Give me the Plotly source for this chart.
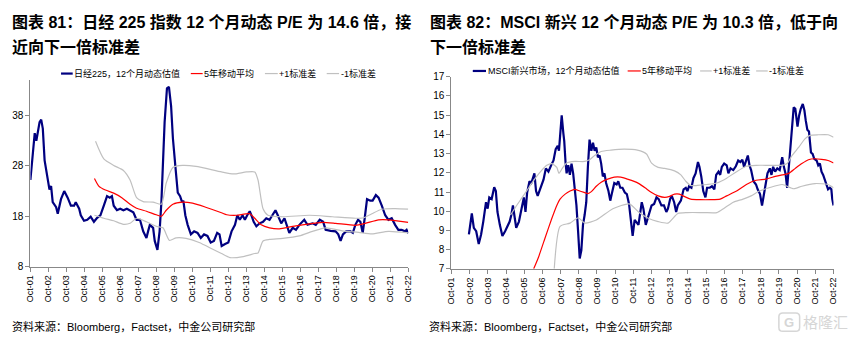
import plotly.graph_objects as go

# ---------------- Nikkei 225: 12m forward P/E (x = decimal year) ----------------
nikkei_x = [2001.75, 2001.90, 2001.99, 2002.08, 2002.17, 2002.26, 2002.35, 2002.44, 2002.54, 2002.72,
            2002.81, 2002.90, 2002.99, 2003.18, 2003.27, 2003.45, 2003.63, 2003.82, 2004.00, 2004.18,
            2004.27, 2004.46, 2004.55, 2004.73, 2004.91, 2005.10, 2005.28, 2005.46, 2005.64, 2005.83,
            2006.01, 2006.16, 2006.28, 2006.38, 2006.56, 2006.74, 2006.92, 2007.11, 2007.29, 2007.47,
            2007.65, 2007.84, 2008.02, 2008.20, 2008.29, 2008.39, 2008.57, 2008.66, 2008.81, 2008.93,
            2009.03, 2009.12, 2009.21, 2009.34, 2009.45, 2009.57, 2009.67, 2009.81, 2009.94, 2010.07,
            2010.18, 2010.25, 2010.36, 2010.49, 2010.67, 2010.85, 2011.04, 2011.22, 2011.40, 2011.59,
            2011.77, 2011.95, 2012.13, 2012.26, 2012.38, 2012.57, 2012.75, 2012.93, 2013.12, 2013.25,
            2013.39, 2013.54, 2013.67, 2013.80, 2013.94, 2014.03, 2014.16, 2014.31, 2014.49, 2014.68,
            2014.86, 2015.04, 2015.23, 2015.37, 2015.50, 2015.69, 2015.87, 2016.00, 2016.14, 2016.33,
            2016.51, 2016.70, 2016.97, 2017.15, 2017.43, 2017.61, 2017.83, 2018.02, 2018.16, 2018.44,
            2018.71, 2018.86, 2018.99, 2019.12, 2019.30, 2019.54, 2019.67, 2019.81, 2019.96, 2020.09,
            2020.22, 2020.33, 2020.46, 2020.64, 2020.77, 2020.95, 2021.10, 2021.28, 2021.47, 2021.65,
            2021.83, 2022.02, 2022.20, 2022.38, 2022.57, 2022.66, 2022.75]
nikkei_pe = [25.2, 31, 34.5, 33, 34.5, 36.7, 37.2, 35.4, 29.1, 25.2,
             23.3, 24, 20.8, 19.8, 18.5, 21.4, 23, 21.7, 20.1, 20.1,
             20.8, 19.5, 18.2, 17.1, 17.3, 17.9, 16.9, 17.7, 18.2, 20.1,
             22, 21.7, 22, 20.1, 19.2, 19.5, 19.2, 19.5, 19.2, 18.8,
             17.3, 17.3, 15, 13.7, 15, 16.3, 15.7, 13.1, 11.3, 15,
             20.8, 30.3, 36.7, 43.4, 43.7, 39.9, 33.5, 27.8, 22.7, 22,
             20.8, 21.1, 18.2, 16.3, 14.4, 15, 14.7, 13.7, 14.4, 14.1,
             12.8, 13.1, 14.7, 14.4, 12.1, 12.5, 12.8, 15, 16.3, 18.2,
             17.3, 18.2, 17.3, 18.2, 19, 18.2, 16.9, 16, 16.6, 16.9,
             17.6, 17.3, 18.5, 19.2, 18.2, 16.6, 17.6, 16, 14.7, 15.7,
             15.3, 16.3, 17.3, 16.3, 16.6, 16.3, 17.3, 16.9, 15.3, 15.1,
             15, 14.4, 13.1, 14.4, 15, 15, 14.7, 16.3, 17.3, 16.9,
             14.7, 17.6, 21.4, 21.1, 21.1, 22.2, 21.7, 20.1, 18.2, 17.3,
             17.6, 16.3, 15.3, 15.3, 15, 15.3, 14.6]

nikkei_ma_x = [2005.31, 2005.55, 2005.92, 2006.38, 2006.83, 2007.29, 2007.65, 2008.20, 2008.75, 2009.03,
               2009.30, 2009.67, 2010.21, 2010.76, 2011.49, 2012.37, 2012.66, 2013.21, 2013.94, 2014.22,
               2014.58, 2015.04, 2015.59, 2016.33, 2017.06, 2017.98, 2018.71, 2019.81, 2020.36, 2021.10,
               2021.65, 2022.75]
nikkei_ma = [25.5, 24, 23.2, 22.6, 21.7, 20.4, 19.6, 19, 18.3, 18,
             19.2, 20.4, 20.8, 20.6, 19.8, 18.7, 18.3, 18.2, 18.5, 17.6,
             16.3, 15.7, 15.5, 16, 16.4, 16.8, 16.6, 16.2, 16.6, 17.3,
             17.3, 16.8]

nikkei_up_x = [2005.37, 2005.83, 2006.38, 2006.92, 2007.29, 2007.65, 2008.02, 2008.57, 2009.03, 2009.30,
               2009.67, 2010.21, 2010.95, 2012.37, 2013.03, 2013.76, 2014.22, 2014.40, 2014.68, 2014.95,
               2015.78, 2017.25, 2018.53, 2019.81, 2020.27, 2020.73, 2021.28, 2022.02, 2022.75]
nikkei_up = [32.9, 29.4, 28.1, 27.1, 25.2, 21.7, 20.9, 20.8, 20.4, 24.6,
             27.7, 28.1, 27.9, 26.8, 26.4, 26.8, 26.8, 25.2, 19.5, 18.2,
             17.9, 18.2, 17.9, 17.6, 17.7, 18.5, 19.4, 19.5, 19.4]

nikkei_dn_x = [2005.31, 2005.83, 2006.38, 2006.92, 2007.29, 2007.65, 2008.20, 2008.75, 2009.12, 2009.48,
               2009.85, 2010.40, 2011.13, 2011.86, 2012.37, 2012.84, 2013.58, 2014.22, 2014.40, 2014.68,
               2015.04, 2015.78, 2016.70, 2017.43, 2018.16, 2019.08, 2019.99, 2020.73, 2021.65, 2022.75]
nikkei_dn = [18.2, 17.6, 17.1, 16.4, 16.6, 17.6, 16.9, 16, 15.7, 13.2,
             13.7, 13.6, 12.8, 11.5, 10.6, 9.8, 10, 10.6, 10.7, 13.1,
             13.4, 13.6, 14.1, 15, 15.7, 15.1, 14.8, 14.5, 15, 14.7]

# ---------------- MSCI EM: 12m forward P/E ----------------
msci_x = [2002.71, 2002.87, 2002.98, 2003.11, 2003.25, 2003.38, 2003.50, 2003.65, 2003.74, 2003.83,
          2003.96, 2004.10, 2004.19, 2004.28, 2004.41, 2004.55, 2004.70, 2004.82, 2004.95, 2005.04,
          2005.13, 2005.22, 2005.31, 2005.46, 2005.64, 2005.73, 2005.82, 2005.91, 2006.04, 2006.14,
          2006.31, 2006.40, 2006.49, 2006.63, 2006.81, 2006.94, 2007.08, 2007.23, 2007.36, 2007.48,
          2007.59, 2007.66, 2007.75, 2007.81, 2007.90, 2007.95, 2008.02, 2008.08, 2008.17, 2008.26,
          2008.35, 2008.44, 2008.53, 2008.62, 2008.71, 2008.80, 2008.89, 2008.98, 2009.07, 2009.16,
          2009.25, 2009.34, 2009.44, 2009.53, 2009.62, 2009.71, 2009.80, 2009.89, 2009.98, 2010.07,
          2010.16, 2010.25, 2010.38, 2010.48, 2010.56, 2010.70, 2010.83, 2010.92, 2011.03, 2011.15,
          2011.28, 2011.39, 2011.51, 2011.60, 2011.71, 2011.82, 2011.93,
          2012.03, 2012.21, 2012.30, 2012.43, 2012.57, 2012.75, 2012.89, 2013.02, 2013.14, 2013.29,
          2013.43, 2013.56, 2013.65, 2013.77, 2013.86, 2013.99, 2014.10, 2014.19, 2014.36, 2014.51,
          2014.63, 2014.72, 2014.81, 2014.94, 2015.05, 2015.17, 2015.30, 2015.38, 2015.48, 2015.59,
          2015.71, 2015.80, 2015.95, 2016.07, 2016.20, 2016.30, 2016.43, 2016.52, 2016.61, 2016.74,
          2016.88, 2016.97, 2017.09, 2017.24, 2017.38, 2017.51, 2017.63, 2017.74, 2017.83, 2017.92,
          2018.04, 2018.13, 2018.22, 2018.35, 2018.49, 2018.58, 2018.71, 2018.82, 2018.89, 2019.00,
          2019.12, 2019.25, 2019.34, 2019.43, 2019.54, 2019.66, 2019.79, 2019.93, 2020.02, 2020.11,
          2020.20, 2020.29, 2020.38, 2020.47, 2020.56, 2020.65, 2020.77, 2020.86, 2020.95, 2021.06,
          2021.15, 2021.22, 2021.31, 2021.40, 2021.51, 2021.60, 2021.69, 2021.82, 2021.91, 2022.00,
          2022.09, 2022.18, 2022.27, 2022.36, 2022.45, 2022.55, 2022.63, 2022.68, 2022.75]
msci_pe = [8.79, 9.88, 9.13, 8.96, 8.29, 8.79, 9.46, 10.47, 10.13, 10.72,
           10.63, 11.25, 11.05, 9.96, 9.29, 8.71, 8.96, 9.21, 9.46, 9.80,
           10.30, 9.71, 9.13, 9.46, 10.22, 10.72, 9.96, 10.97, 11.56, 11.47,
           11.97, 11.05, 10.80, 11.14, 11.64, 12.23, 12.06, 12.39, 12.64, 13.23,
           13.40, 13.15, 14.40, 14.99, 14.07, 13.65, 12.56, 11.97, 12.39, 11.89,
           12.48, 11.97, 11.14, 10.30, 8.96, 7.54, 7.96, 9.29, 9.80, 10.47,
           12.31, 13.73, 13.15, 13.57, 13.15, 13.32, 12.81, 12.90, 12.48, 11.81,
           11.97, 11.47, 11.05, 10.55, 10.89, 11.47, 11.39, 11.56, 11.22, 11.22,
           10.97, 10.89, 10.38, 9.63, 8.71, 9.55, 9.38,
           9.29, 10.47, 10.13, 9.29, 9.80, 10.30, 10.38, 10.72, 10.63, 10.30,
           10.30, 9.96, 10.13, 10.63, 10.80, 10.47, 9.96, 10.30, 10.55, 11.14,
           11.22, 11.05, 11.30, 11.22, 11.72, 11.97, 12.56, 12.31, 11.81, 11.05,
           10.72, 11.22, 11.22, 11.30, 11.14, 11.89, 12.06, 11.89, 12.31, 12.48,
           12.39, 11.97, 12.23, 12.14, 12.34, 12.64, 12.56, 12.68, 12.31, 12.56,
           12.90, 12.39, 12.14, 11.56, 11.39, 11.14, 10.89, 10.30, 10.80, 11.30,
           11.97, 12.23, 11.89, 12.31, 12.06, 12.23, 12.14, 12.81, 12.31, 11.97,
           11.22, 12.31, 13.48, 14.66, 15.41, 15.33, 14.40, 14.99, 15.33, 15.58,
           15.24, 14.74, 14.24, 14.15, 13.06, 12.98, 12.73, 12.64, 12.39, 12.48,
           12.06, 11.89, 11.64, 11.39, 11.14, 11.22, 11.14, 10.63, 10.3]

msci_ma_x = [2006.27, 2006.54, 2006.90, 2007.27, 2007.54, 2007.72, 2008.00, 2008.27, 2008.53, 2008.80,
             2009.07, 2009.25, 2009.44, 2009.71, 2009.98, 2010.34, 2010.70, 2011.06, 2011.42, 2011.79,
             2012.03, 2012.39, 2012.75, 2013.11, 2013.47, 2013.74, 2014.01, 2014.28, 2014.54, 2014.90,
             2015.44, 2015.98, 2016.52, 2016.88, 2017.42, 2017.96, 2018.49, 2019.03, 2019.39, 2019.93,
             2020.29, 2020.65, 2021.01, 2021.37, 2021.73, 2022.09, 2022.45, 2022.75]
msci_ma = [7.0, 7.62, 8.62, 9.63, 10.30, 10.63, 10.89, 11.05, 11.14, 11.05,
           10.97, 10.92, 11.02, 11.30, 11.51, 11.67, 11.77, 11.77, 11.67, 11.55,
           11.45, 11.22, 10.97, 10.80, 10.72, 10.77, 10.89, 10.89, 10.77, 10.63,
           10.60, 10.60, 10.63, 10.80, 11.05, 11.39, 11.61, 11.67, 11.77, 11.89,
           11.97, 12.23, 12.48, 12.68, 12.73, 12.70, 12.64, 12.51]

msci_up_x = [2005.00, 2005.28, 2005.64, 2006.00, 2006.36, 2006.72, 2006.99, 2007.27, 2007.54, 2007.66,
             2007.84, 2008.08, 2008.53, 2009.07, 2009.34, 2009.62, 2009.98, 2010.52, 2011.24, 2011.97,
             2012.47, 2012.75, 2013.11, 2013.47, 2014.01, 2014.36, 2014.63, 2014.90, 2015.26, 2015.80,
             2016.34, 2016.88, 2017.42, 2017.96, 2018.49, 2019.21, 2019.93, 2020.20, 2020.47, 2020.83,
             2021.19, 2021.46, 2021.91, 2022.45, 2022.75]
msci_up = [9.80, 10.22, 10.72, 11.22, 11.72, 12.14, 12.39, 12.48, 12.28, 11.97,
           12.23, 12.51, 12.59, 12.59, 12.68, 12.90, 13.11, 13.18, 13.23, 13.18,
           12.98, 12.50, 12.28, 12.23, 12.10, 11.89, 11.56, 11.34, 11.34, 11.39,
           11.47, 11.72, 12.06, 12.34, 12.39, 12.39, 12.39, 12.48, 12.90, 13.32,
           13.78, 13.95, 13.98, 13.98, 13.85]

msci_dn_x = [2007.40, 2007.72, 2008.27, 2008.72, 2009.08, 2009.71, 2010.62, 2011.53, 2012.03, 2012.57,
             2013.11, 2013.65, 2014.19, 2014.72, 2015.62, 2016.34, 2016.70, 2017.24, 2017.78, 2018.22,
             2018.67, 2019.21, 2019.93, 2020.56, 2021.01, 2021.73, 2022.45, 2022.75]
msci_dn = [7.0, 9.21, 9.38, 9.66, 9.38, 9.54, 10.13, 10.38, 9.96, 9.63,
           9.46, 9.38, 9.88, 9.93, 9.93, 9.93, 10.13, 10.47, 10.63, 10.80,
           11.05, 11.22, 11.39, 11.17, 11.30, 11.44, 11.39, 11.22]

# ---------------- axis ticks ----------------
tick_labels = ["Oct-01", "Oct-02", "Oct-03", "Oct-04", "Oct-05", "Oct-06", "Oct-07", "Oct-08",
               "Oct-09", "Oct-10", "Oct-11", "Oct-12", "Oct-13", "Oct-14", "Oct-15", "Oct-16",
               "Oct-17", "Oct-18", "Oct-19", "Oct-20", "Oct-21", "Oct-22"]
tick_pos = [2001.75 + i for i in range(len(tick_labels))]
nikkei_yticks = [8, 18, 28, 38]
msci_yticks = [7, 8, 9, 10, 11, 12, 13, 14, 15, 16, 17]

# ---------------- styling ----------------
W, H = 858, 345
NAVY, RED, GREY, AXIS = "#000080", "#FF0000", "#C0C0C0", "#888888"
FONT = "Liberation Sans, Arial, Noto Sans CJK SC, sans-serif"


def px(x):
    return x / W


def py(y):
    return 1 - y / H


fig = go.Figure()


def add_series(xs, ys, color, width, xa, ya, smooth):
    fig.add_trace(go.Scatter(
        x=xs, y=ys, mode="lines", xaxis=xa, yaxis=ya, hoverinfo="skip", showlegend=False,
        line=dict(color=color, width=width, shape="spline" if smooth else "linear",
                  smoothing=0.6 if smooth else None)))


add_series(nikkei_x, nikkei_pe, NAVY, 2.2, "x", "y", False)
add_series(nikkei_ma_x, nikkei_ma, RED, 1.2, "x", "y", True)
add_series(nikkei_up_x, nikkei_up, GREY, 1.2, "x", "y", True)
add_series(nikkei_dn_x, nikkei_dn, GREY, 1.2, "x", "y", True)

add_series(msci_x, msci_pe, NAVY, 2.2, "x2", "y2", False)
add_series(msci_ma_x, msci_ma, RED, 1.2, "x2", "y2", True)
add_series(msci_up_x, msci_up, GREY, 1.2, "x2", "y2", True)
add_series(msci_dn_x, msci_dn, GREY, 1.2, "x2", "y2", True)

xcommon = dict(range=[2001.75, 2022.75], tickvals=tick_pos, ticktext=tick_labels, tickangle=-90,
               ticks="outside", ticklen=4, tickcolor=AXIS, showline=True, linecolor=AXIS,
               linewidth=1, showgrid=False, zeroline=False,
               tickfont=dict(family=FONT, size=9, color="black"))
ycommon = dict(ticks="outside", ticklen=4, tickcolor=AXIS, showline=True, linecolor=AXIS,
               linewidth=1, showgrid=False, zeroline=False,
               tickfont=dict(family=FONT, size=10, color="black"))

fig.update_layout(
    width=W, height=H, autosize=False,
    margin=dict(l=0, r=0, t=0, b=0),
    paper_bgcolor="white", plot_bgcolor="white", showlegend=False,
    xaxis=dict(domain=[px(25.7), px(408)], anchor="y", **xcommon),
    yaxis=dict(domain=[py(270), py(77)], anchor="x", range=[8, 45], tickvals=nikkei_yticks, **ycommon),
    xaxis2=dict(domain=[px(451.7), px(838.3)], anchor="y2", **xcommon),
    yaxis2=dict(domain=[py(272.3), py(73.3)], anchor="x2", range=[7, 17], tickvals=msci_yticks, **ycommon),
)

annotations = []
shapes = []

# titles (two lines each)
titles = [
    (5, "图表 81：日经 225 指数 12 个月动态 P/E 为 14.6 倍，接", "近向下一倍标准差"),
    (428, "图表 82：MSCI 新兴 12 个月动态 P/E 为 10.3 倍，低于向", "下一倍标准差"),
]
for x0, line1, line2 in titles:
    for yy, txt in ((16.7, line1), (42.7, line2)):
        annotations.append(dict(x=px(x0), y=py(yy), xref="paper", yref="paper", xanchor="left",
                                yanchor="middle", showarrow=False, text="<b>" + txt + "</b>",
                                font=dict(family=FONT, size=16, color="black")))

# hand-placed legends
legends = [
    (70.0, [("日经225，12个月动态估值", NAVY, 2.2, 56.7, 68.5),
            ("5年移动平均", RED, 1.2, 188, 200),
            ("+1标准差", GREY, 1.2, 263, 276),
            ("-1标准差", GREY, 1.2, 325.5, 338)]),
    (67.3, [("MSCI新兴市场，12个月动态估值", NAVY, 2.2, 473.3, 486.7),
            ("5年移动平均", RED, 1.2, 630, 643.3),
            ("+1标准差", GREY, 1.2, 703.3, 715),
            ("-1标准差", GREY, 1.2, 760, 771.7)]),
]
for ly, items in legends:
    for name, color, width, sx0, sx1 in items:
        shapes.append(dict(type="line", xref="paper", yref="paper", x0=px(sx0), x1=px(sx1),
                           y0=py(ly), y1=py(ly), line=dict(color=color, width=width)))
        annotations.append(dict(x=px(sx1 - 0.5), y=py(ly), xref="paper", yref="paper",
                                xanchor="left", yanchor="middle", showarrow=False, text=name,
                                font=dict(family=FONT, size=9, color="black")))

# source notes
for x0 in (5, 427):
    annotations.append(dict(x=px(x0), y=py(331.7), xref="paper", yref="paper", xanchor="left",
                            yanchor="middle", showarrow=False,
                            text="资料来源：Bloomberg，Factset，中金公司研究部",
                            font=dict(family=FONT, size=11, color="black")))

# site mark in the lower-right corner
shapes.append(dict(type="path", xref="paper", yref="paper",
                   path=f"M {px(787)},{py(318)} L {px(800)},{py(318)} Q {px(804)},{py(318)} {px(804)},{py(322)} "
                        f"L {px(804)},{py(333)} Q {px(804)},{py(337)} {px(800)},{py(337)} L {px(787)},{py(337)} "
                        f"Q {px(783)},{py(337)} {px(783)},{py(333)} L {px(783)},{py(322)} Q {px(783)},{py(318)} {px(787)},{py(318)} Z",
                   line=dict(color="#d6d6d6", width=1.5)))
annotations.append(dict(x=px(793.5), y=py(327.5), xref="paper", yref="paper", xanchor="center",
                        yanchor="middle", showarrow=False, text="<b>G</b>",
                        font=dict(family=FONT, size=13, color="#d6d6d6")))
annotations.append(dict(x=px(805), y=py(327.5), xref="paper", yref="paper", xanchor="left",
                        yanchor="middle", showarrow=False, text="格隆汇",
                        font=dict(family=FONT, size=15, color="#d6d6d6")))

fig.update_layout(annotations=annotations, shapes=shapes)
fig.write_html("out.html")
